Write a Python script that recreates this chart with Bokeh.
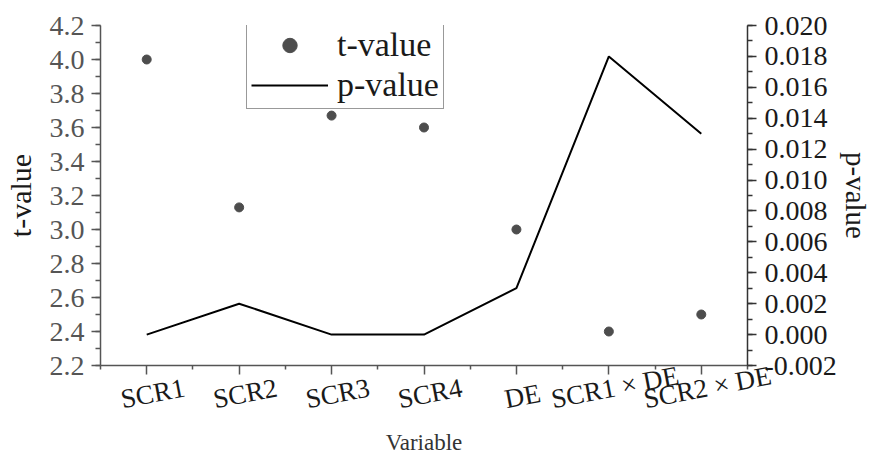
import math
from bokeh.plotting import figure
from bokeh.models import (Range1d, LinearAxis, FixedTicker, PrintfTickFormatter,
                          ColumnDataSource, Legend, LegendItem)
from bokeh.embed import file_html
from bokeh.resources import INLINE

categories = ["SCR1", "SCR2", "SCR3", "SCR4", "DE", "SCR1 \u00d7 DE", "SCR2 \u00d7 DE"]
t_values = [4.00, 3.13, 3.67, 3.60, 3.00, 2.40, 2.50]
p_values = [0.000, 0.002, 0.000, 0.000, 0.003, 0.018, 0.013]
t_ticks = [2.2, 2.4, 2.6, 2.8, 3.0, 3.2, 3.4, 3.6, 3.8, 4.0, 4.2]
p_ticks = [-0.002, 0.000, 0.002, 0.004, 0.006, 0.008, 0.010, 0.012, 0.014, 0.016, 0.018, 0.020]

xpos = list(range(1, len(categories) + 1))
FONT = "Liberation Serif"
GRAY = "#555555"
DARK = "#1a1a1a"

W, H = 874, 459
BL, BR, BT, BB = 98, 127, 25, 94
p = figure(width=W, height=H, output_backend="svg", toolbar_location=None,
           x_range=Range1d(0.5, 7.5), y_range=Range1d(2.2, 4.2),
           min_border_left=BL, min_border_right=BR, min_border_top=BT, min_border_bottom=BB)
p.outline_line_color = None
p.grid.visible = False
p.background_fill_color = "white"
p.border_fill_color = "white"
p.extra_y_ranges = {"p": Range1d(-0.002, 0.020)}

src = ColumnDataSource(dict(x=xpos, t=t_values, pv=p_values))
r_t = p.scatter("x", "t", source=src, size=9, color="#4d4d4d")
r_p = p.line("x", "pv", source=src, y_range_name="p", line_color="black", line_width=2)

# bottom axis: line + ticks only
xa = p.xaxis[0]
xa.ticker = FixedTicker(ticks=xpos, minor_ticks=[i + 0.5 for i in range(0, 8)])
xa.major_label_overrides = {i: "" for i in xpos}
xa.major_label_text_font_size = "0px"
xa.major_label_standoff = 0
xa.axis_line_color = GRAY
xa.axis_line_width = 1.5
xa.major_tick_line_color = GRAY
xa.minor_tick_line_color = GRAY
xa.major_tick_line_width = 1.5
xa.minor_tick_line_width = 1.5
xa.major_tick_out = 9
xa.major_tick_in = 0
xa.minor_tick_out = 4
xa.minor_tick_in = 0

# category labels, rotated; each label is anchored at its left end, so the anchor
# is moved left by half of its (estimated) rotated width to centre it under its tick
ANG = 0.19
LBL_PX = 27
adv = {"S": 0.556, "C": 0.667, "R": 0.667, "D": 0.722, "E": 0.611, " ": 0.25,
       "\u00d7": 0.564}
px_per_unit = (W - BL - BR) / 7.0
def est_w(s):
    return sum(adv.get(ch, 0.5) for ch in s) * LBL_PX
label_ticks = [x + (6 - est_w(c) / 2 * math.cos(ANG)) / px_per_unit for x, c in zip(xpos, categories)]
xl = LinearAxis()
xl.ticker = FixedTicker(ticks=label_ticks, minor_ticks=[])
xl.major_label_overrides = {t: c for t, c in zip(label_ticks, categories)}
xl.major_label_orientation = ANG - 2 * math.pi
xl.major_label_text_font = FONT
xl.major_label_text_font_size = f"{LBL_PX}px"
xl.major_label_text_color = DARK
xl.major_label_standoff = 25
xl.axis_line_color = None
xl.major_tick_line_color = None
xl.minor_tick_line_color = None
xl.major_tick_out = 0
xl.major_tick_in = 0
p.add_layout(xl, "below")

# axis title
xv = LinearAxis()
xv.ticker = FixedTicker(ticks=[], minor_ticks=[])
xv.axis_line_color = None
xv.major_tick_line_color = None
xv.minor_tick_line_color = None
xv.major_tick_out = 0
xv.major_tick_in = 0
xv.major_label_standoff = 0
xv.axis_label = "Variable"
xv.axis_label_text_font = FONT
xv.axis_label_text_font_style = "normal"
xv.axis_label_text_font_size = "23px"
xv.axis_label_text_color = "#333333"
xv.axis_label_standoff = 4
p.add_layout(xv, "below")

# left axis
ya = p.yaxis[0]
ya.ticker = FixedTicker(ticks=t_ticks, minor_ticks=[round(2.2 + 0.1 * i, 2) for i in range(21)])
ya.formatter = PrintfTickFormatter(format="%.1f")
ya.axis_label = "t-value"
ya.axis_label_text_font = FONT
ya.axis_label_text_font_style = "normal"
ya.axis_label_text_font_size = "30px"
ya.axis_label_text_color = DARK
ya.axis_label_standoff = 10
ya.major_label_text_font = FONT
ya.major_label_text_font_size = "28px"
ya.major_label_text_color = GRAY
ya.major_label_standoff = 7
ya.axis_line_color = GRAY
ya.axis_line_width = 1.5
ya.major_tick_line_color = GRAY
ya.minor_tick_line_color = GRAY
ya.major_tick_line_width = 1.5
ya.minor_tick_line_width = 1.5
ya.major_tick_out = 9
ya.major_tick_in = 0
ya.minor_tick_out = 5
ya.minor_tick_in = 0

# right axis
ra = LinearAxis(y_range_name="p")
ra.ticker = FixedTicker(ticks=p_ticks, minor_ticks=[round(-0.002 + 0.001 * i, 4) for i in range(23)])
ra.formatter = PrintfTickFormatter(format="%.3f")
ra.axis_label = "p-value"
ra.axis_label_text_font = FONT
ra.axis_label_text_font_style = "normal"
ra.axis_label_text_font_size = "29px"
ra.axis_label_text_color = DARK
ra.axis_label_standoff = 0
ra.major_label_text_font = FONT
ra.major_label_text_font_size = "28px"
ra.major_label_text_color = DARK
ra.major_label_standoff = 8
ra.axis_line_color = "#333333"
ra.axis_line_width = 1.5
ra.major_tick_line_color = "#333333"
ra.minor_tick_line_color = "#333333"
ra.major_tick_line_width = 1.5
ra.minor_tick_line_width = 1.5
ra.major_tick_out = 9
ra.major_tick_in = 0
ra.minor_tick_out = 5
ra.minor_tick_in = 0
p.add_layout(ra, "right")

legend = Legend(items=[LegendItem(label="t-value", renderers=[r_t]),
                       LegendItem(label="p-value", renderers=[r_p])],
                location=(146, 256), orientation="vertical")
legend.label_text_font = FONT
legend.label_text_font_size = "34px"
legend.label_text_color = DARK
legend.glyph_width = 77
legend.glyph_height = 36
legend.label_height = 36
legend.label_standoff = 9
legend.spacing = 2
legend.padding = 4
legend.margin = 0
legend.border_line_color = "#333333"
legend.border_line_width = 1.5
legend.background_fill_alpha = 0
p.add_layout(legend, "center")

open("out.html", "w").write(file_html(p, INLINE))
